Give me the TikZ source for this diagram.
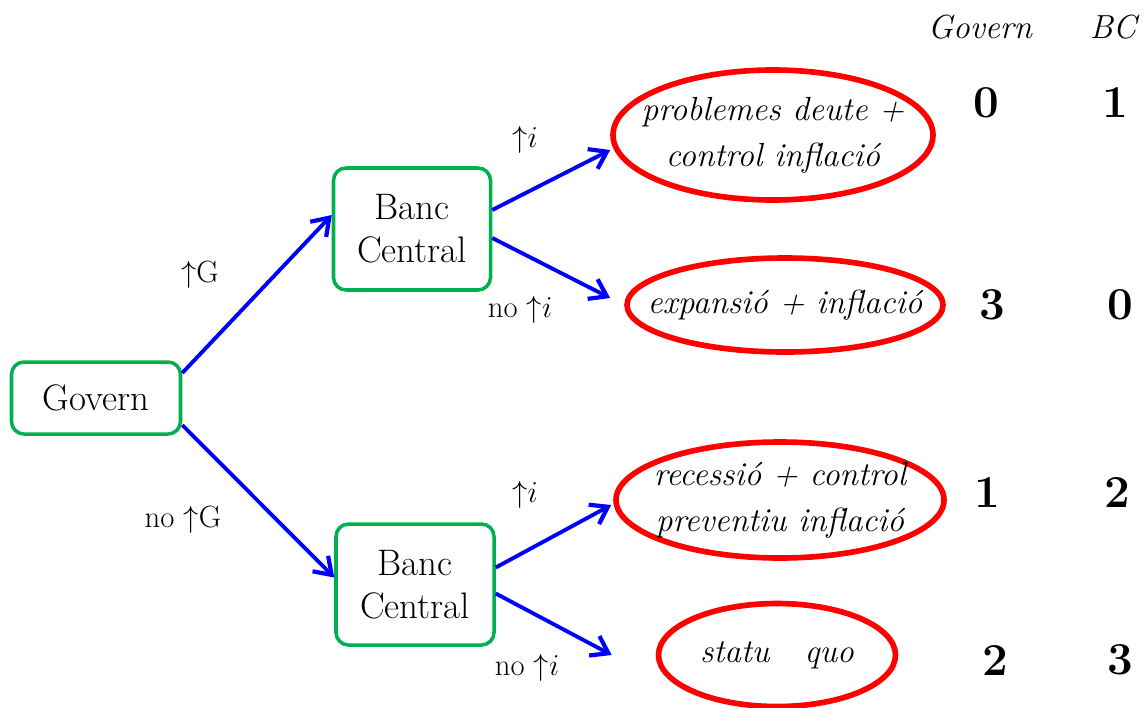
\documentclass[tikz,border=0pt]{standalone}
\usetikzlibrary{shapes.geometric,arrows.meta}
\definecolor{boxgreen}{RGB}{0,176,80}
\begin{document}
\begin{tikzpicture}
	\tikzstyle{every node}=[font=\fontsize{17.5}{21}\selectfont]
	\tikzstyle{player}=[draw=boxgreen, line width=2pt, rounded corners=0.25cm, align=center, font=\fontsize{21}{24.5}\selectfont]
	\tikzstyle{result}=[draw=red, line width=3.2pt, ellipse, inner sep=0pt]
	\tikzstyle{restext}=[align=center, font=\fontsize{19}{26}\selectfont\itshape]
	\tikzstyle{pay}=[font=\fontsize{26}{30}\selectfont\bfseries]
	\tikzstyle{move}=[color=blue, line width=2.2pt, -{Straight Barb[length=3.2mm,width=4.4mm,line width=2.4pt]}]
	\useasboundingbox (0,0) rectangle (22.9,-14.14);
	
	\node [player, minimum width=3.38cm, minimum height=1.44cm] (gov) at (1.92,-7.96) {Govern};
	\node [player, minimum width=3.14cm, minimum height=2.44cm] (bcup) at (8.24,-4.58) {Banc\\Central};
	\node [player, minimum width=3.16cm, minimum height=2.42cm] (bcdown) at (8.30,-11.69) {Banc\\Central};
	
	\node [result, minimum width=6.4cm, minimum height=2.6cm] (deute) at (15.46,-2.70) {};
	\node [result, minimum width=6.32cm, minimum height=1.88cm] (expansio) at (15.70,-6.10) {};
	\node [result, minimum width=6.56cm, minimum height=2.32cm] (recessio) at (15.60,-10.0) {};
	\node [result, minimum width=4.74cm, minimum height=2.06cm] (statu) at (15.54,-13.10) {};
	\node [restext] (deutetxt) at (deute) {problemes deute +\\control inflació};
	\node [restext] (expansiotxt) at (expansio) {expansió + inflació};
	\node [restext] (recessiotxt) at (recessio) {recessió + control\\preventiu inflació};
	\node [restext] (statutxt) at (statu) {statu\ \ \ quo};
	
	\draw [move] ([yshift=0.5cm]gov.east) -- ([yshift=0.28cm]bcup.west);
	\draw [move] ([yshift=-0.54cm]gov.east) -- ([yshift=0.14cm]bcdown.west);
	\draw [move] ([yshift=0.38cm]bcup.east) -- ([yshift=-0.3cm]deute.west);
	\draw [move] ([yshift=-0.18cm]bcup.east) -- ([xshift=-0.28cm,yshift=0.14cm]expansio.west);
	\draw [move] ([yshift=0.34cm]bcdown.east) -- ([xshift=-0.04cm,yshift=-0.1cm]recessio.west);
	\draw [move] ([yshift=-0.18cm]bcdown.east) -- ([xshift=-0.88cm]statu.west);
	
	\node (upG) at (4.0,-5.5) {$\mathord{\uparrow}$G};
	\node (noupG) at (3.66,-10.4) {no $\mathord{\uparrow}$G};
	\node (upi1) at (10.5,-2.8) {$\mathord{\uparrow}i$};
	\node (noupi1) at (10.4,-6.2) {no $\mathord{\uparrow}i$};
	\node (upi2) at (10.5,-9.9) {$\mathord{\uparrow}i$};
	\node (noupi2) at (10.54,-13.36) {no $\mathord{\uparrow}i$};
	
	\node [font=\fontsize{19}{22}\selectfont\itshape] (hgov) at (19.6,-0.54) {Govern};
	\node [font=\fontsize{19}{22}\selectfont\itshape] (hbc) at (22.26,-0.54) {BC};
	
	\node [pay] (g1) at (19.72,-2.06) {0};
	\node [pay] (b1) at (22.3,-2.06) {1};
	\node [pay] (g2) at (19.84,-6.1) {3};
	\node [pay] (b2) at (22.4,-6.1) {0};
	\node [pay] (g3) at (19.74,-9.86) {1};
	\node [pay] (b3) at (22.34,-9.86) {2};
	\node [pay] (g4) at (19.9,-13.2) {2};
	\node [pay] (b4) at (22.4,-13.2) {3};
\end{tikzpicture}
\end{document}
